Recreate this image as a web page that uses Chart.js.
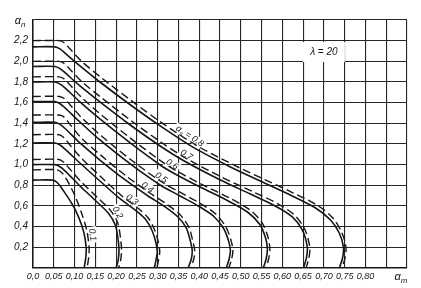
<!DOCTYPE html>
<html lang="ru">
<head>
<meta charset="utf-8">
<title>αn – αm, λ = 20</title>
<script src="https://cdn.jsdelivr.net/npm/chart.js"></script>
<style>
    html, body { margin: 0; background: #fff; }
    #wrap { position: relative; width: 421px; height: 288px; }
</style>
</head>
<body>
<div id="wrap"><canvas id="myChart" width="421" height="288"></canvas></div>
<script>
    // curve names (alpha_s values)
    const alphaS = ['0,1', '0,2', '0,3', '0,4', '0,5', '0,6', '0,7', '0,8'];

    // solid curves, [alpha_m, alpha_n]
    const s1 = [[0,0.85],[0.048,0.85],[0.06,0.82],[0.072,0.755],[0.094,0.62],[0.11,0.49],[0.122,0.35],[0.128,0.2],[0.127,0.1],[0.123,0]];
    const s2 = [[0,1.0],[0.053,1.0],[0.065,0.98],[0.077,0.94],[0.113,0.794],[0.149,0.658],[0.181,0.532],[0.198,0.416],[0.205,0.271],[0.207,0.174],[0.205,0.077],[0.2,0]];
    const s3 = [[0,1.21],[0.053,1.21],[0.065,1.19],[0.077,1.15],[0.113,1.016],[0.161,0.842],[0.21,0.668],[0.246,0.561],[0.272,0.465],[0.287,0.358],[0.296,0.242],[0.299,0.155],[0.296,0.077],[0.292,0]];
    const s4 = [[0,1.41],[0.053,1.41],[0.065,1.39],[0.077,1.35],[0.113,1.21],[0.161,1.045],[0.222,0.852],[0.277,0.697],[0.318,0.591],[0.349,0.494],[0.369,0.387],[0.378,0.271],[0.383,0.174],[0.381,0.087],[0.373,0]];
    const s5 = [[0,1.61],[0.053,1.61],[0.065,1.59],[0.077,1.55],[0.113,1.413],[0.161,1.239],[0.234,1.007],[0.306,0.803],[0.354,0.697],[0.398,0.6],[0.434,0.503],[0.458,0.387],[0.47,0.271],[0.475,0.174],[0.472,0.087],[0.465,0]];
    const s6 = [[0,1.80],[0.053,1.80],[0.065,1.78],[0.077,1.743],[0.113,1.607],[0.161,1.442],[0.234,1.21],[0.306,0.997],[0.342,0.91],[0.402,0.784],[0.47,0.649],[0.516,0.542],[0.545,0.426],[0.559,0.3],[0.564,0.184],[0.561,0.087],[0.554,0]];
    const s7 = [[0,1.95],[0.053,1.95],[0.065,1.93],[0.077,1.89],[0.113,1.762],[0.161,1.607],[0.234,1.384],[0.306,1.181],[0.364,1.036],[0.451,0.852],[0.523,0.716],[0.583,0.6],[0.624,0.494],[0.648,0.368],[0.66,0.203],[0.658,0.097],[0.651,0]];
    const s8 = [[0,2.14],[0.053,2.14],[0.065,2.12],[0.077,2.08],[0.113,1.955],[0.161,1.80],[0.234,1.58],[0.306,1.375],[0.388,1.162],[0.475,0.978],[0.547,0.842],[0.619,0.707],[0.68,0.581],[0.716,0.465],[0.737,0.339],[0.747,0.203],[0.745,0.097],[0.737,0]];

    // dashed curves
    const d1 = [[0,0.95],[0.058,0.95],[0.07,0.92],[0.082,0.85],[0.102,0.69],[0.117,0.53],[0.129,0.37],[0.135,0.2],[0.134,0.1],[0.13,0]];
    const d2 = [[0,1.05],[0.063,1.05],[0.075,1.02],[0.087,0.965],[0.117,0.83],[0.153,0.69],[0.186,0.56],[0.204,0.435],[0.211,0.275],[0.213,0.174],[0.211,0.077],[0.206,0]];
    const d3 = [[0,1.29],[0.063,1.29],[0.075,1.26],[0.087,1.2],[0.117,1.06],[0.165,0.876],[0.214,0.697],[0.25,0.588],[0.277,0.486],[0.293,0.365],[0.302,0.242],[0.305,0.155],[0.302,0.077],[0.298,0]];
    const d4 = [[0,1.48],[0.063,1.48],[0.075,1.46],[0.087,1.40],[0.117,1.255],[0.165,1.085],[0.226,0.885],[0.281,0.726],[0.322,0.617],[0.354,0.515],[0.375,0.395],[0.384,0.271],[0.389,0.174],[0.387,0.087],[0.379,0]];
    const d5 = [[0,1.66],[0.063,1.66],[0.075,1.64],[0.087,1.59],[0.117,1.455],[0.165,1.277],[0.238,1.04],[0.31,0.832],[0.358,0.724],[0.402,0.626],[0.439,0.525],[0.464,0.398],[0.476,0.275],[0.481,0.174],[0.478,0.087],[0.471,0]];
    const d6 = [[0,1.85],[0.063,1.85],[0.075,1.83],[0.087,1.78],[0.117,1.65],[0.165,1.48],[0.238,1.245],[0.31,1.03],[0.346,0.938],[0.406,0.81],[0.474,0.675],[0.521,0.565],[0.551,0.44],[0.565,0.305],[0.57,0.184],[0.567,0.087],[0.56,0]];
    const d7 = [[0,2.0],[0.063,2.0],[0.075,1.98],[0.087,1.93],[0.117,1.805],[0.165,1.647],[0.238,1.42],[0.31,1.212],[0.368,1.062],[0.455,0.878],[0.527,0.742],[0.587,0.626],[0.629,0.514],[0.654,0.375],[0.666,0.203],[0.664,0.097],[0.657,0]];
    const d8 = [[0,2.20],[0.063,2.20],[0.075,2.18],[0.087,2.13],[0.117,2.0],[0.165,1.84],[0.238,1.615],[0.31,1.405],[0.392,1.19],[0.479,1.005],[0.551,0.868],[0.623,0.733],[0.685,0.605],[0.721,0.486],[0.743,0.345],[0.753,0.203],[0.751,0.097],[0.743,0]];

    // where along each dashed curve its name sits (alpha_m)
    const labelAtX = [0.131, 0.193, 0.234, 0.271, 0.304, 0.331, 0.365, 0.372];

    const solids = [s1, s2, s3, s4, s5, s6, s7, s8];
    const dashes = [d1, d2, d3, d4, d5, d6, d7, d8];

    const FONT = '"Liberation Sans", "DejaVu Sans", sans-serif';
    const INK = '#161616';

    function toPts(arr) {
        return arr.map(p => ({x: p[0], y: p[1]}));
    }

    const datasets = [];
    for (let i = 0; i < solids.length; i++) {
        datasets.push({
            data: toPts(solids[i]),
            showLine: true, borderColor: INK, borderWidth: 1.6,
            pointRadius: 0, tension: 0.3, fill: false
        });
        datasets.push({
            data: toPts(dashes[i]),
            showLine: true, borderColor: INK, borderWidth: 1.4, borderDash: [8, 4],
            pointRadius: 0, tension: 0.3, fill: false
        });
    }

    // y of a curve at given x, on its first crossing
    function yAt(curve, x) {
        for (let i = 1; i < curve.length; i++) {
            const [x0, y0] = curve[i - 1], [x1, y1] = curve[i];
            if (x0 <= x && x1 >= x && x1 > x0) {
                return y0 + (x - x0) / (x1 - x0) * (y1 - y0);
            }
        }
        return null;
    }

    // draws parts like [['α', false], ['s', true], [' = 0,8', false]] centred at 0,0
    function drawParts(ctx, parts, size) {
        const main = 'italic ' + size + 'px ' + FONT;
        const sub = 'italic ' + Math.round(size * 0.75) + 'px ' + FONT;
        let w = 0;
        parts.forEach(([t, s]) => { ctx.font = s ? sub : main; w += ctx.measureText(t).width; });
        let cx = -w / 2;
        parts.forEach(([t, s]) => {
            ctx.font = s ? sub : main;
            ctx.fillText(t, cx, s ? size * 0.3 : 0);
            cx += ctx.measureText(t).width;
        });
        return w;
    }

    function labelSpots(chart) {
        const xs = chart.scales.x, ys = chart.scales.y;
        const out = [];
        for (let i = 0; i < dashes.length; i++) {
            const ax = labelAtX[i];
            const px0 = xs.getPixelForValue(ax - 0.004), py0 = ys.getPixelForValue(yAt(dashes[i], ax - 0.004));
            const px1 = xs.getPixelForValue(ax + 0.004), py1 = ys.getPixelForValue(yAt(dashes[i], ax + 0.004));
            const a = Math.atan2(py1 - py0, px1 - px0);
            const px = xs.getPixelForValue(ax), py = ys.getPixelForValue(yAt(dashes[i], ax));
            const d = i < 2 ? 5 : (i === 7 ? 4 : 3);
            out.push({x: px + Math.sin(a) * d, y: py - Math.cos(a) * d, a: a, i: i});
        }
        return out;
    }

    function partsFor(i) {
        if (i === 7) return [['α', false], ['s', true], [' = ' + alphaS[i], false]];
        return [[alphaS[i], false]];
    }

    const notes = {
        id: 'notes',
        beforeDatasetsDraw(chart) {
            const ctx = chart.ctx, xs = chart.scales.x, ys = chart.scales.y;
            ctx.save();
            ctx.fillStyle = '#fff';
            // clear the grid behind the lambda note
            const lx = xs.getPixelForValue(0.7), ly = ys.getPixelForValue(2.09);
            ctx.fillRect(lx - 21, ly - 10, 42, 20);
            // and behind the curve names
            labelSpots(chart).forEach(s => {
                ctx.save();
                ctx.translate(s.x, s.y);
                ctx.rotate(s.a);
                const w = s.i === 7 ? 34 : 14;
                ctx.fillRect(-w / 2 - 1, -5, w + 2, 10);
                ctx.restore();
            });
            ctx.restore();
        },
        afterDatasetsDraw(chart) {
            const ctx = chart.ctx, xs = chart.scales.x, ys = chart.scales.y;
            ctx.save();
            ctx.fillStyle = INK;
            ctx.textBaseline = 'middle';
            ctx.textAlign = 'left';
            labelSpots(chart).forEach(s => {
                ctx.save();
                ctx.translate(s.x, s.y);
                ctx.rotate(s.a);
                drawParts(ctx, partsFor(s.i), 9);
                ctx.restore();
            });
            // lambda note
            ctx.save();
            ctx.translate(xs.getPixelForValue(0.7), ys.getPixelForValue(2.09));
            drawParts(ctx, [['λ = 20', false]], 10);
            ctx.restore();
            // axis names
            ctx.save();
            ctx.translate(20, 21);
            drawParts(ctx, [['α', false], ['n', true]], 11);
            ctx.restore();
            ctx.save();
            ctx.translate(401, 277);
            drawParts(ctx, [['α', false], ['m', true]], 11);
            ctx.restore();
            ctx.restore();
        }
    };

    const myChart = new Chart(document.getElementById('myChart'), {
        type: 'scatter',
        data: {datasets: datasets},
        options: {
            responsive: false,
            animation: false,
            events: [],
            layout: {padding: {top: 20, right: 14, left: 0, bottom: 0}},
            plugins: {legend: {display: false}, tooltip: {enabled: false}},
            scales: {
                x: {
                    type: 'linear', min: 0, max: 0.9,
                    grid: {color: '#262626', lineWidth: 1.1, drawTicks: false},
                    border: {color: INK, width: 1.5},
                    ticks: {
                        stepSize: 0.05, autoSkip: false, maxRotation: 0, padding: 3,
                        color: INK, font: {family: FONT, style: 'italic', size: 9},
                        callback: function (v) {
                            const k = Math.round(v * 100);
                            if (k === 0) return '0,0';
                            if (k > 80) return '';
                            return '0,' + String(k).padStart(2, '0');
                        }
                    },
                    afterFit: function (s) { s.height = 20; }
                },
                y: {
                    type: 'linear', min: 0, max: 2.4,
                    grid: {color: '#262626', lineWidth: 1.1, drawTicks: false},
                    border: {color: INK, width: 1.5},
                    ticks: {
                        stepSize: 0.2, padding: 5, color: INK, font: {family: FONT, style: 'italic', size: 10},
                        callback: function (v) {
                            const k = Math.round(v * 10);
                            if (k === 0 || k > 22) return '';
                            return (k / 10).toFixed(1).replace('.', ',');
                        }
                    },
                    afterFit: function (s) { s.width = 33; }
                }
            }
        },
        plugins: [notes]
    });
</script>
</body>
</html>
